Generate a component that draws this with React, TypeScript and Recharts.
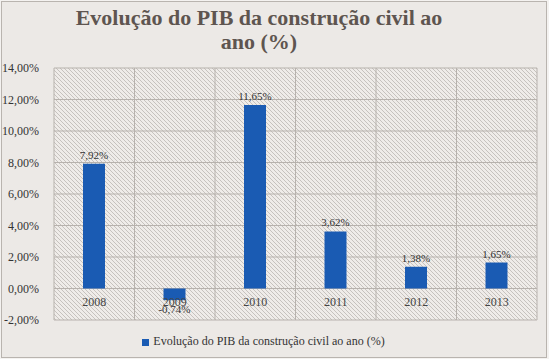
import {
  ComposedChart,
  Bar,
  Line,
  XAxis,
  YAxis,
  CartesianGrid,
  Legend,
  LabelList,
} from 'recharts'

const years = ['2008', '2009', '2010', '2011', '2012', '2013']
const growth = [7.92, -0.74, 11.65, 3.62, 1.38, 1.65]
const yTicks = [-2, 0, 2, 4, 6, 8, 10, 12, 14]

const SERIES_NAME = 'Evolução do PIB da construção civil ao ano (%)'
const FONT = '"Liberation Serif", "Times New Roman", serif'

const chartData = years.map((year, i) => ({ year, growth: growth[i], zero: 0 }))

const fmt = (v: number) => `${v.toFixed(2).replace('.', ',')}%`

export default function App() {
  return (
    <div
      style={{
        position: 'absolute',
        left: 0,
        top: 0,
        width: 549,
        height: 359,
        background: '#f4f2f0',
        fontFamily: FONT,
      }}
    >
      <div
        style={{
          position: 'absolute',
          left: 1,
          top: 1,
          width: 544,
          height: 355,
          border: '1px solid #b9b4af',
          background: '#ece9e6',
        }}
      />
      <div
        style={{
          position: 'absolute',
          left: 0,
          top: 6,
          width: 518,
          textAlign: 'center',
          fontSize: 22,
          fontWeight: 'bold',
          lineHeight: '24px',
          color: '#5e5550',
        }}
      >
        Evolução do PIB da construção civil ao
        <br />
        ano (%)
      </div>
      <div style={{ position: 'absolute', left: 0, top: 0 }}>
        <ComposedChart
          width={549}
          height={359}
          data={chartData}
          margin={{ top: 68, right: 12, bottom: 24, left: 0 }}
          barSize={22}
        >
          <defs>
            <pattern id="hatch" width="4" height="4" patternUnits="userSpaceOnUse">
              <rect width="4" height="4" fill="#efece9" />
              <path d="M-1,-1 L5,5 M-1,3 L1,5 M3,-1 L5,1" stroke="#c6c2be" strokeWidth="1" />
            </pattern>
          </defs>
          <CartesianGrid
            fill="url(#hatch)"
            stroke="#b7b2ad"
            verticalCoordinatesGenerator={({ offset }: any) =>
              years.map((_, i) => offset.left + (i * offset.width) / years.length).concat(offset.left + offset.width)
            }
          />
          <XAxis dataKey="year" hide />
          <YAxis
            domain={[-2, 14]}
            ticks={yTicks}
            width={54}
            axisLine={false}
            tickLine={false}
            tickMargin={9}
            tickFormatter={fmt}
            tick={{ fontSize: 12, fill: '#333', fontFamily: FONT }}
          />
          <Legend
            verticalAlign="bottom"
            iconType="square"
            iconSize={7}
            wrapperStyle={{ fontSize: 12, fontFamily: FONT, color: '#333', bottom: 10 }}
            formatter={(value: string) => <span style={{ color: '#333' }}>{value}</span>}
          />
          <Bar dataKey="growth" name={SERIES_NAME} fill="#1a5bb3" isAnimationActive={false}>
            <LabelList
              dataKey="growth"
              position="top"
              offset={5}
              formatter={(v: any) => fmt(Number(v))}
              style={{ fontSize: 11, fill: '#333', fontFamily: FONT }}
            />
          </Bar>
          <Line
            dataKey="zero"
            stroke="none"
            dot={false}
            legendType="none"
            isAnimationActive={false}
          >
            <LabelList
              dataKey="year"
              position="bottom"
              offset={9}
              style={{ fontSize: 12, fill: '#444', fontFamily: FONT }}
            />
          </Line>
        </ComposedChart>
      </div>
    </div>
  )
}
